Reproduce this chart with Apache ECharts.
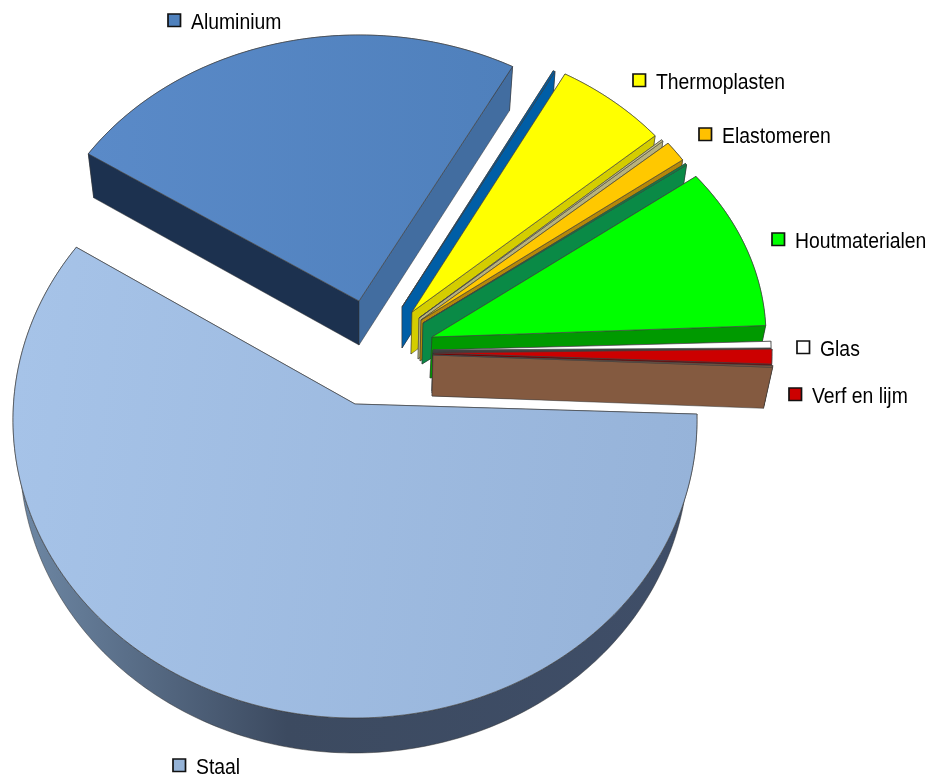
<!DOCTYPE html>
<html>
<head>
<meta charset="utf-8">
<title>Materialen</title>
<style>
  html, body { margin: 0; padding: 0; background: #fff; }
  #main { width: 930px; height: 775px; }
</style>
<script src="https://cdn.jsdelivr.net/npm/echarts@6/dist/echarts.min.js"></script>
</head>
<body>
<div id="main"></div>
<script>
// slices clockwise from the start of Aluminium; '' = slice without a legend entry
var names = ['Aluminium', '', 'Thermoplasten', '', 'Elastomeren', '', 'Houtmaterialen', 'Glas', '', 'Verf en lijm', '', 'Staal'];
var shares = [23.5, 0.1, 5.8, 0.1, 1.2, 0.1, 9.8, 0.4, 0.1, 0.9, 0.1, 57.9];

// colours
var topColors = ['#5585c2', '#005ea6', '#ffff00', '#cfc98e', '#ffc800', '#0a8a46', '#00ff00', '#ffffff', '#333333', '#cc0000', '#845a40', '#9db9e0'];
var endColors = ['#426da0', '#005ea6', '#d4cd00', '#b8b27c', '#b5870a', '#0a8a46', '#009a00', '#444444', '#333333', '#7a0000', '#845a40', '#3c4a60'];
var startColors = ['#1c314f', '#005ea6', '#d4cd00', '#b8b27c', '#b5870a', '#0a8a46', '#009a00', '#444444', '#333333', '#7a0000', '#845a40', '#3c4a60'];

// perspective: every pulled-out slice gets its own apex, radii and thickness
var sliceX = [359, 402, 412, 419, 421, 423, 432, 433, 433, 434, 433, 355];
var sliceY = [301, 307, 312, 318, 320, 323, 337, 350, 352, 353, 355, 404];
var radiusX = [325, 320, 320, 316, 320, 321, 334, 338, 338, 338, 340, 342];
var radiusY = [266, 268, 271, 278, 278, 277, 262, 265, 265, 265, 265, 298];
var depth = [44, 41, 42, 41, 41, 41, 41, 41, 41, 41, 41, 35];
var turn = [0, 0, 0, -0.7, -0.72, -0.72, 2.28, 1.65, 1.65, 2.4, 2.5, 6.3];
var spread = [1, 1, 1, 1, 1, 1, 1, 1, 1, 1, 1, 1.039];
var arcDrop = [0, 0, 0, 0, 0, 0, 0, 0, 0, 0, 0, 16]; // ellipse centre below the apex
var baseScale = [0.98, 0.98, 0.98, 0.98, 0.98, 0.98, 0.98, 0.98, 0.98, 0.98, 0.976, 0.977];
var baseShift = [0, 0, -1, -1, -1, -1, -2, -1, -1, -1, -1, -1];

// legend keys, placed by hand around the pie
var keyX = [168, 0, 633, 0, 699, 0, 772, 797, 0, 789, 0, 173];
var keyY = [14, 0, 74, 0, 128, 0, 233, 341, 0, 388, 0, 759];
var keyColors = ['#4f81bd', '', '#ffff00', '', '#ffc000', '', '#00ff00', '#ffffff', '', '#cc0000', '', '#95b3d7'];

var startAngle = 146.4;
var total = shares.reduce(function (a, b) { return a + b; }, 0);

function pt(cx, cy, a, b, deg) {
    var r = deg * Math.PI / 180;
    return [cx + a * Math.cos(r), cy - b * Math.sin(r)];
}

function arc(cx, cy, a, b, from, to) {
    var pts = [];
    var n = Math.max(2, Math.ceil(Math.abs(from - to)));
    for (var i = 0; i <= n; i++) {
        pts.push(pt(cx, cy, a, b, from + (to - from) * i / n));
    }
    return pts;
}

function face(points, fill, stroke, lw) {
    return {
        type: 'polygon',
        shape: { points: points },
        style: { fill: fill, stroke: stroke || fill, lineWidth: lw === undefined ? 0.6 : lw }
    };
}

function renderSlice(params, api) {
    var i = params.dataIndex;
    var before = 0;
    for (var k = 0; k < i; k++) before += shares[k];
    var from = startAngle - before / total * 360 + turn[i];
    var to = from - api.value(1) / total * 360 * spread[i];

    var cx = sliceX[i], cy = sliceY[i], a = radiusX[i], b = radiusY[i];
    var bx = cx + baseShift[i], by = cy + depth[i], ba = a * baseScale[i];

    var top = arc(cx, cy + arcDrop[i], a, b, from, to);
    var base = arc(bx, by + arcDrop[i], ba, b, from, to);
    var children = [];

    var isStaal = names[i] === 'Staal';
    var wall = endColors[i];
    if (isStaal) {
        wall = new echarts.graphic.LinearGradient(0, 0, 1, 0, [
            { offset: 0, color: '#6f89a6' },
            { offset: 0.4, color: '#3c4a60' },
            { offset: 1, color: '#3f4e68' }
        ]);
    }

    // outer wall between the two arcs
    children.push(face(top.concat(base.slice().reverse()), wall, '#333', 0.5));
    // radial faces
    children.push(face([[cx, cy], top[0], base[0], [bx, by]], startColors[i], '#333', 0.5));
    children.push(face([[cx, cy], top[top.length - 1], base[base.length - 1], [bx, by]], endColors[i], '#333', 0.5));

    // top surface
    var fill = topColors[i];
    if (isStaal) {
        fill = new echarts.graphic.LinearGradient(0, 0.3, 1, 0.5, [
            { offset: 0, color: '#a6c3e8' },
            { offset: 1, color: '#96b3d9' }
        ]);
    } else if (names[i] === 'Aluminium') {
        fill = new echarts.graphic.LinearGradient(0, 0, 1, 0, [
            { offset: 0, color: '#5a8ac8' },
            { offset: 1, color: '#4f80bc' }
        ]);
    }
    children.push(face([[cx, cy]].concat(top), fill, '#444', 0.7));

    // legend key and label
    if (names[i]) {
        children.push({
            type: 'rect',
            shape: { x: keyX[i], y: keyY[i], width: 12.5, height: 12.5 },
            style: { fill: keyColors[i], stroke: '#111', lineWidth: 1.7 },
            z2: 50
        });
        children.push({
            type: 'text',
            x: keyX[i] + 23,
            y: keyY[i] + 8.5,
            scaleX: 0.88,
            style: {
                text: names[i],
                fontFamily: 'Liberation Sans',
                fontSize: 22,
                fill: '#000',
                verticalAlign: 'middle'
            },
            z2: 50
        });
    }

    return { type: 'group', children: children };
}

var chart = echarts.init(document.getElementById('main'));

var option = {
    animation: false,
    backgroundColor: '#fff',
    series: [{
        type: 'custom',
        coordinateSystem: 'none',
        silent: true,
        renderItem: renderSlice,
        data: shares.map(function (v, i) { return [i, v]; })
    }]
};

chart.setOption(option);
</script>
</body>
</html>
